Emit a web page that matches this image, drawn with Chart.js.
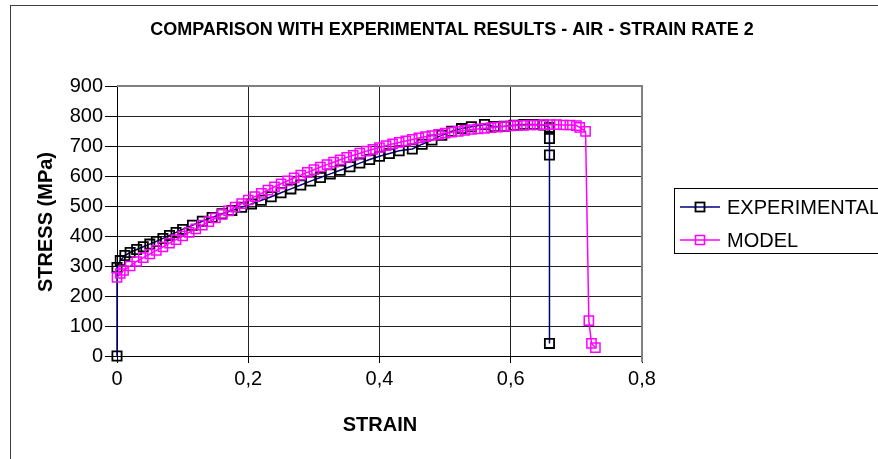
<!DOCTYPE html>
<html><head><meta charset="utf-8">
<script src="https://cdn.jsdelivr.net/npm/chart.js@4.4.1/dist/chart.umd.min.js"></script>
<style>html,body{margin:0;padding:0;background:#fff;overflow:hidden}</style>
</head><body>
<canvas id="c" width="878" height="459"></canvas>
<script>
const chartTitle = 'COMPARISON WITH EXPERIMENTAL RESULTS - AIR - STRAIN RATE 2';
const xTitle = 'STRAIN';
const yTitle = 'STRESS (MPa)';
const seriesNames = ['EXPERIMENTAL', 'MODEL'];
const xTickLabels = ['0', '0,2', '0,4', '0,6', '0,8'];

const expStrain = [0,0,0.005,0.012,0.02,0.03,0.04,0.05,0.06,0.07,0.08,0.09,0.10,0.115,0.13,0.145,0.16,0.175,0.19,0.205,0.22,0.235,0.25,0.265,0.28,0.295,0.31,0.325,0.34,0.355,0.37,0.385,0.40,0.415,0.43,0.45,0.465,0.48,0.495,0.51,0.525,0.54,0.56,0.575,0.59,0.605,0.62,0.635,0.65,0.659,0.659,0.659,0.659];
const expStress = [0,295,318,335,345,355,364,373,382,392,402,412,422,436,449,462,474,485,496,507,519,531,544,557,570,583,595,607,619,631,643,655,666,675,684,690,706,720,736,749,758,764,772,765,766,769,772,772,770,762,725,670,42];

const modelStrain = [0,0.005,0.01,0.02,0.03,0.04,0.05,0.06,0.07,0.08,0.09,0.10,0.11,0.12,0.13,0.14,0.15,0.16,0.17,0.18,0.19,0.20,0.21,0.22,0.23,0.24,0.25,0.26,0.27,0.28,0.29,0.30,0.31,0.32,0.33,0.34,0.35,0.36,0.37,0.38,0.39,0.40,0.41,0.42,0.43,0.44,0.45,0.46,0.47,0.48,0.49,0.50,0.51,0.52,0.53,0.54,0.55,0.56,0.57,0.58,0.59,0.60,0.61,0.62,0.63,0.64,0.65,0.66,0.67,0.68,0.69,0.70,0.705,0.714,0.719,0.723,0.729];
const modelStress = [262,275,285,300,315,328,340,352,364,376,388,400,412,424,436,448,460,472,484,496,508,520,531,542,553,564,574,584,594,603,612,621,630,638,646,654,662,669,676,683,689,695,701,707,712,717,722,727,731,735,739,743,746,749,752,755,757,759,761,763,765,767,768,769,770,770,771,771,771,770,770,768,762,749,118,42,28];

const FONT = '"Liberation Sans", Arial, sans-serif';

const deco = {
  id: 'deco',
  afterDraw(chart) {
    const ctx = chart.ctx;
    const a = chart.chartArea;
    ctx.save();
    // plot area top/right border
    ctx.strokeStyle = '#808080';
    ctx.lineWidth = 2;
    ctx.beginPath();
    ctx.moveTo(a.left, a.top);
    ctx.lineTo(a.right, a.top);
    ctx.lineTo(a.right, a.bottom + 6);
    ctx.stroke();
    // titles
    ctx.fillStyle = '#000';
    ctx.textAlign = 'center';
    ctx.textBaseline = 'middle';
    ctx.font = 'bold 18px ' + FONT;
    ctx.fillText(chartTitle, 452, 30);
    ctx.font = 'bold 20px ' + FONT;
    ctx.fillText(xTitle, 380, 425);
    ctx.save();
    ctx.translate(46, 222);
    ctx.rotate(-Math.PI / 2);
    ctx.fillText(yTitle, 0, 0);
    ctx.restore();
    // legend
    ctx.strokeStyle = '#000';
    ctx.lineWidth = 1;
    ctx.strokeRect(674.5, 188.5, 260, 65);
    const rows = [207, 240];
    chart.data.datasets.forEach((ds, i) => {
      const y = rows[i];
      ctx.strokeStyle = ds.borderColor;
      ctx.lineWidth = ds.borderWidth;
      ctx.beginPath();
      ctx.moveTo(680, y);
      ctx.lineTo(720, y);
      ctx.stroke();
      ctx.strokeStyle = ds.pointBorderColor;
      ctx.lineWidth = ds.pointBorderWidth;
      ctx.strokeRect(695.5, y - 4.5, 9, 9);
      ctx.fillStyle = '#000';
      ctx.textAlign = 'left';
      ctx.font = '20px ' + FONT;
      ctx.fillText(seriesNames[i], 727, y + 1);
    });
    // outer frame
    ctx.strokeStyle = '#404040';
    ctx.lineWidth = 1;
    ctx.strokeRect(10.5, 5.5, 900, 500);
    ctx.restore();
  }
};

new Chart(document.getElementById('c'), {
  type: 'scatter',
  data: {
    datasets: [
      {
        label: seriesNames[0],
        data: expStrain.map((x, i) => ({x: x, y: expStress[i]})),
        showLine: true,
        borderColor: '#000080',
        borderWidth: 1.5,
        pointStyle: 'rect',
        pointRadius: 6.5,
        pointBorderColor: '#000000',
        pointBackgroundColor: 'rgba(0,0,0,0)',
        pointBorderWidth: 1.8,
        clip: false,
        order: 2
      },
      {
        label: seriesNames[1],
        data: modelStrain.map((x, i) => ({x: x, y: modelStress[i]})),
        showLine: true,
        borderColor: '#ff00ff',
        borderWidth: 1.5,
        pointStyle: 'rect',
        pointRadius: 6.5,
        pointBorderColor: '#ff00ff',
        pointBackgroundColor: 'rgba(0,0,0,0)',
        pointBorderWidth: 1.5,
        clip: false,
        order: 1
      }
    ]
  },
  options: {
    responsive: false,
    animation: false,
    devicePixelRatio: 1,
    layout: {padding: {left: 0, right: 236, top: 86, bottom: 0}},
    plugins: {legend: {display: false}, title: {display: false}, tooltip: {enabled: false}},
    scales: {
      x: {
        type: 'linear', min: 0, max: 0.8,
        ticks: {stepSize: 0.2, color: '#000', padding: 4, font: {family: FONT, size: 20},
          callback: (v, i) => xTickLabels[i]},
        grid: {color: '#222', lineWidth: 1, tickLength: 7, tickColor: '#000'},
        border: {color: '#000', width: 1},
        afterFit: s => { s.height = 103; }
      },
      y: {
        min: 0, max: 900,
        ticks: {stepSize: 100, color: '#000', padding: 2, font: {family: FONT, size: 20}},
        grid: {color: '#222', lineWidth: 1, tickLength: 12, tickColor: '#000'},
        border: {color: '#000', width: 1},
        afterFit: s => { s.width = 117; }
      }
    }
  },
  plugins: [deco]
});
</script>
</body></html>
